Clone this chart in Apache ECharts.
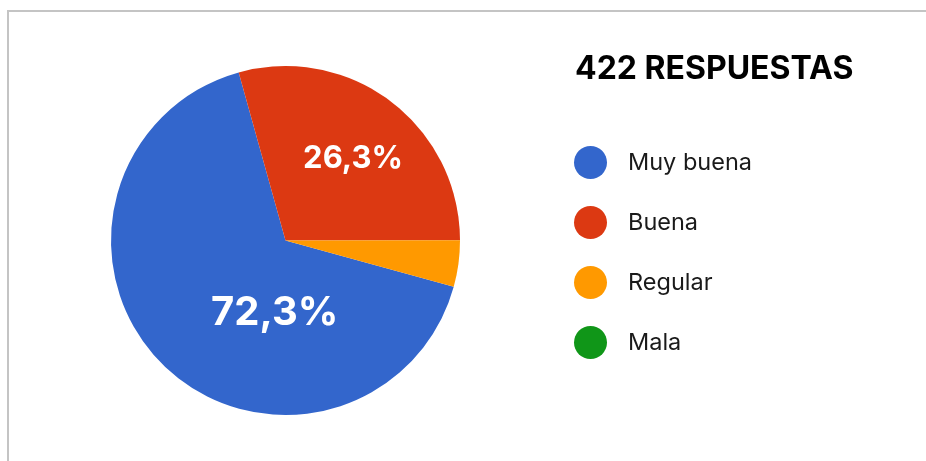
<!DOCTYPE html>
<html>
<head>
<meta charset="utf-8">
<script src="https://cdn.jsdelivr.net/npm/echarts@6/dist/echarts.min.js"></script>
<style>
    html, body { margin: 0; padding: 0; background: #fff; }
    .frame {
        position: absolute; left: 7px; top: 10px;
        width: 1000px; height: 600px;
        border-left: 2px solid #c4c4c4; border-top: 2px solid #c4c4c4;
    }
    .chart__wrapper { position: absolute; left: 0; top: 0; width: 926px; height: 461px; }
</style>
</head>
<body>
<div class='frame'></div>
<div class='chart__wrapper' id='chart'></div>
<script>
    // answers and slice sizes as drawn
    let categories = ['Muy buena', 'Buena', 'Regular', 'Mala'];
    let values = [66.4, 29.3, 4.3, 0];
    let sliceLabels = ['72,3%', '26,3%', '', ''];
    let colors = ['#3366cc', '#dc3912', '#ff9900', '#109618'];
    let totalText = '422 RESPUESTAS';

    let labelOffsets = [[53, 9], [13, -10], [0, 0], [0, 0]];
    let labelSizes = [40, 31, 12, 12];

    let myChart = echarts.init(document.getElementById('chart'), null, { renderer: 'canvas' });

    let pieData = categories.map((name, i) => ({
        name: name,
        value: values[i],
        itemStyle: { color: colors[i] },
        label: {
            show: sliceLabels[i] !== '',
            offset: labelOffsets[i],
            fontSize: labelSizes[i]
        }
    }));

    let option = {
        animation: false,
        title: {
            text: totalText,
            left: 575,
            top: 53,
            padding: 0,
            textStyle: {
                fontFamily: 'Inter',
                fontWeight: 'bold',
                fontSize: 32,
                color: '#000'
            }
        },
        legend: {
            orient: 'vertical',
            left: 574,
            top: 146,
            padding: 0,
            icon: 'circle',
            itemWidth: 33,
            itemHeight: 33,
            itemGap: 27,
            selectedMode: false,
            data: categories,
            textStyle: {
                fontFamily: 'Inter',
                fontSize: 23.5,
                color: '#1a1a1a',
                padding: [0, 0, 0, 16]
            }
        },
        series: [{
            type: 'pie',
            center: [285.5, 240.5],
            radius: 174.5,
            startAngle: -15.4,
            clockwise: true,
            avoidLabelOverlap: false,
            silent: true,
            label: {
                position: 'inside',
                color: '#fff',
                fontFamily: 'Inter',
                fontWeight: 'bold',
                formatter: (p) => sliceLabels[p.dataIndex]
            },
            labelLine: { show: false },
            itemStyle: { borderWidth: 0 },
            data: pieData
        }]
    };

    myChart.setOption(option);
</script>
</body>
</html>
